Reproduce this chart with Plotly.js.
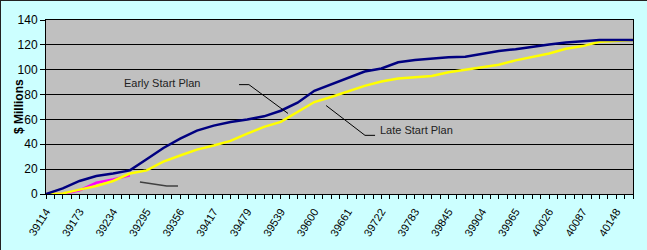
<!DOCTYPE html>
<html>
<head>
<meta charset="utf-8">
<script src="https://cdn.plot.ly/plotly-3.0.1.min.js"></script>
<style>
  html, body { margin: 0; padding: 0; background: #ccffff; }
  #wrap { position: relative; width: 647px; height: 250px; }
  #chart { position: absolute; left: 0; top: 0; width: 647px; height: 250px; }
  #frame { position: absolute; left: 0; top: 0; width: 646px; height: 249px;
           border-top: 1px solid #222; border-left: 1px solid #222; pointer-events: none; }
</style>
</head>
<body>
<div id="wrap"><div id="chart"></div><div id="frame"></div></div>
<script>
// Monthly categories (Excel date serials)
const categories = ['39114','39142','39173','39203','39234','39264','39295','39326','39356','39387',
  '39417','39448','39479','39508','39539','39569','39600','39630','39661','39692',
  '39722','39753','39783','39814','39845','39873','39904','39934','39965','39995',
  '40026','40057','40087','40118','40148','40179'];

// Cumulative spend, $ Millions
const earlyStart = [0, 4.5, 10.5, 14.5, 16.5, 19, 28, 37, 44.5, 51,
  55, 58, 60, 62.5, 67, 73.5, 83, 88, 93.5, 98.5,
  101, 106, 107.8, 109, 110, 110.5, 113, 115, 116.5, 118.5,
  120.3, 121.9, 122.7, 124, 124, 124];

const lateStart = [0, 0.5, 3.5, 6.5, 10.5, 16.5, 19, 26, 31, 35.7,
  39, 42.7, 48.5, 54, 58, 66, 74, 78, 82.5, 87,
  90.5, 93, 94, 95, 98, 100, 102, 104, 107.5, 110.3,
  113, 116.8, 119, 122.5, 123.5, 124];

const actual = [0, 0, 3, 9, 11.7, 15];

// Labelled categories on the axis
const tickLabels = ['39114','39173','39234','39295','39356','39417','39479','39539','39600',
  '39661','39722','39783','39845','39904','39965','40026','40087','40148'];

const xIdx = categories.map((c, i) => i);
const tickVals = tickLabels.map(t => categories.indexOf(t));

const FONT = 'Liberation Sans, Arial, sans-serif';

const traces = [
  { x: xIdx.slice(0, actual.length), y: actual, type: 'scatter', mode: 'lines',
    line: { color: '#ff00ff', width: 2.5 }, hoverinfo: 'skip', name: 'Actual' },
  { x: xIdx, y: lateStart, type: 'scatter', mode: 'lines',
    line: { color: '#ffff00', width: 2.5 }, name: 'Late Start Plan' },
  { x: xIdx, y: earlyStart, type: 'scatter', mode: 'lines',
    line: { color: '#000080', width: 2.5 }, name: 'Early Start Plan' }
];

const layout = {
  width: 647, height: 250,
  margin: { l: 46, r: 14, t: 19.5, b: 55.5, pad: 0 },
  paper_bgcolor: '#ccffff',
  plot_bgcolor: '#c0c0c0',
  showlegend: false,
  font: { family: FONT, size: 12, color: '#000' },
  xaxis: {
    type: 'linear', range: [0, categories.length - 1],
    tickmode: 'array', tickvals: tickVals, ticktext: tickLabels,
    tickangle: -58, ticks: 'outside', ticklen: 4, tickcolor: '#000',
    ticklabelstandoff: 2,
    tickfont: { family: FONT, size: 11, color: '#000' },
    minor: { dtick: 0.5, tick0: 0, ticks: 'outside', ticklen: 4, tickcolor: '#000', showgrid: false },
    showgrid: false, zeroline: false,
    showline: true, linecolor: '#000', linewidth: 1, mirror: true,
    fixedrange: true
  },
  yaxis: {
    range: [0, 140], dtick: 20, tick0: 0,
    ticks: 'outside', ticklen: 5, tickcolor: '#000',
    tickfont: { family: FONT, size: 12, color: '#000' },
    showgrid: true, gridcolor: '#000', gridwidth: 1,
    zeroline: false,
    showline: true, linecolor: '#000', linewidth: 1, mirror: true,
    fixedrange: true
  },
  annotations: [
    { xref: 'paper', yref: 'paper', x: 0, y: 0.5, xshift: -27, xanchor: 'center', yanchor: 'middle',
      text: '<b>$ Millions</b>', textangle: -90, showarrow: false,
      font: { family: FONT, size: 12, color: '#000' } },
    { xref: 'x', yref: 'y', x: 6.9, y: 89.6, xanchor: 'center', yanchor: 'middle',
      text: 'Early Start Plan', showarrow: false, font: { family: FONT, size: 11, color: '#222' } },
    { xref: 'x', yref: 'y', x: 22.1, y: 51.2, xanchor: 'center', yanchor: 'middle',
      text: 'Late Start Plan', showarrow: false, font: { family: FONT, size: 11, color: '#222' } }
  ],
  shapes: [
    { type: 'path', xref: 'x', yref: 'y', path: 'M 11.51 88 L 12.1 88 L 14.43 64.8',
      line: { color: '#000', width: 1 } },
    { type: 'path', xref: 'x', yref: 'y', path: 'M 16.7 71.2 L 19.02 47.2 L 19.62 47.2',
      line: { color: '#000', width: 1 } },
    { type: 'path', xref: 'x', yref: 'y', path: 'M 5.6 9.6 L 7.2 6.4 L 7.87 6.4',
      line: { color: '#404040', width: 1.5 } }
  ]
};

Plotly.newPlot('chart', traces, layout, { displayModeBar: false, staticPlot: true });
</script>
</body>
</html>
